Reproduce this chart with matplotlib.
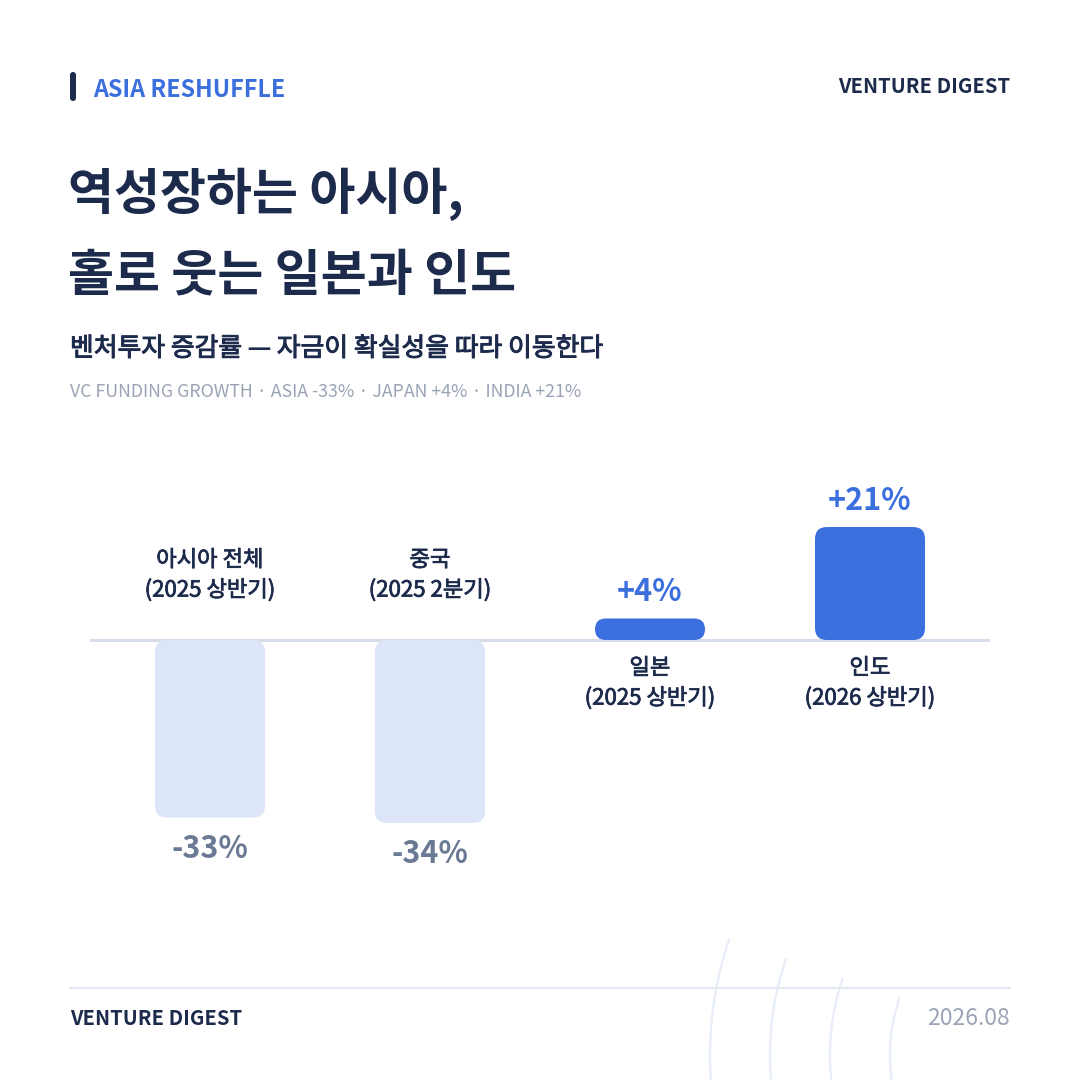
"""
Square card: venture funding growth, Asia overall vs China, Japan, India.

Writes out.png (1080x1080). Header/footer live on a pixel-space layer,
the bars on their own axes in percent units.
"""

import matplotlib

matplotlib.use("Agg")
import matplotlib.patheffects as pe
import matplotlib.pyplot as plt
from matplotlib.patches import Arc, FancyBboxPatch

REGIONS = ["아시아 전체", "중국", "일본", "인도"]
PERIODS = ["2025 상반기", "2025 2분기", "2025 상반기", "2026 상반기"]
GROWTH = [-33, -34, 4, 21]  # % change in VC funding

NAVY = "#1c2a4b"
BLUE = "#3b6fde"
PALE = "#dce6f8"
SLATE = "#6b7a94"
GREY = "#9aa4b6"
RULE = "#d6dde9"
FAINT = "#e8eef8"

plt.rcParams["font.family"] = ["Noto Sans CJK KR", "DejaVu Sans"]

W = H = 1080
PX_PER_PCT = 5.38   # vertical scale of the chart
SLOT = 220          # px between bar centres
BAR_W = 0.5         # in slots (110 px)
RADIUS = 12         # corner radius, px
PT = 72 / 100       # px -> pt at dpi 100


def medium(color, w=0.55):
    # no Medium face installed: thicken Regular a little with a stroke
    return [pe.withStroke(linewidth=w, foreground=color)]


def rounded_bar(ax, x, h, color):
    """Bar from 0 to h with rounded corners that stay round on unequal axes."""
    h_px = abs(h) * PX_PER_PCT
    r_px = min(RADIUS, h_px / 2)
    rx = r_px / SLOT
    ry = r_px / PX_PER_PCT
    patch = FancyBboxPatch((x - BAR_W / 2, min(0, h)), BAR_W, abs(h),
                           boxstyle=f"round,pad=0,rounding_size={rx}",
                           mutation_aspect=ry / rx if rx else 1,
                           fc=color, ec="none", zorder=2)
    ax.add_patch(patch)


fig = plt.figure(figsize=(10.8, 10.8), dpi=100)
fig.patch.set_facecolor("white")

# pixel layer (y down) for the card furniture
bg = fig.add_axes([0, 0, 1, 1])
bg.set_xlim(0, W)
bg.set_ylim(H, 0)
bg.axis("off")

for r in [358, 298, 238, 178]:
    bg.add_patch(Arc((1068, 1055), 2 * r, 2 * r, theta1=150, theta2=199,
                     color=FAINT, lw=1.6, zorder=0))

bg.add_patch(FancyBboxPatch((70, 72), 6, 29, boxstyle="round,pad=0,rounding_size=3",
                            fc=NAVY, ec="none"))
bg.text(93, 97, "ASIA RESHUFFLE", color=BLUE, fontsize=16.8, fontweight="bold",
        va="baseline")
bg.text(1010, 93, "VENTURE DIGEST", color=NAVY, fontsize=14.5, fontweight="bold",
        ha="right", va="baseline")

bg.text(68, 210, "역성장하는 아시아,", color=NAVY, fontsize=36,
        fontweight="bold", va="baseline")
bg.text(68, 290, "홀로 웃는 일본과 인도", color=NAVY, fontsize=36,
        fontweight="bold", va="baseline")
bg.text(70, 356, "벤처투자 증감률 — 자금이 확실성을 따라 이동한다", color=NAVY,
        fontsize=18.6, va="baseline", path_effects=medium(NAVY, 0.7))
bg.text(70, 397, "VC FUNDING GROWTH · ASIA -33% · JAPAN +4% · INDIA +21%",
        color=GREY, fontsize=12.8, va="baseline")

bg.plot([70, 1010], [988, 988], color="#e3e8f1", lw=1.5, zorder=1)
bg.text(70, 1025, "VENTURE DIGEST", color=NAVY, fontsize=14.5, fontweight="bold",
        va="baseline")
bg.text(1010, 1025, "2026.08", color=GREY, fontsize=16.5, ha="right",
        va="baseline")

# chart: bar centres at 210, 430, 650, 870 px; zero line at y = 640 px
top_px, bot_px, left_px, right_px = 440, 900, 90, 990
ax = fig.add_axes([left_px / W, (H - bot_px) / H,
                   (right_px - left_px) / W, (bot_px - top_px) / H])
ax.set_xlim((left_px - 210) / SLOT, (right_px - 210) / SLOT)
ax.set_ylim(-(bot_px - 640) / PX_PER_PCT, (640 - top_px) / PX_PER_PCT)
ax.axis("off")
ax.patch.set_alpha(0)

ax.axhline(0, color=RULE, lw=3 * PT, zorder=1)

for i, (region, period, v) in enumerate(zip(REGIONS, PERIODS, GROWTH)):
    up = v > 0
    rounded_bar(ax, i, v, BLUE if up else PALE)
    ax.annotate(f"{v:+d}%", (i, v), xytext=(0, 17 * PT if up else -40 * PT),
                textcoords="offset points", ha="center", va="baseline",
                color=BLUE if up else SLATE, fontsize=22, fontweight="bold")
    # category sits on the opposite side of the zero line
    ax.annotate(f"{region}\n({period})", (i, 0),
                xytext=(0, -43 * PT if up else 65 * PT),
                textcoords="offset points", ha="center", va="center",
                color=NAVY, fontsize=16, linespacing=1.35,
                path_effects=medium(NAVY))

fig.savefig("out.png", dpi=100, facecolor="white")
